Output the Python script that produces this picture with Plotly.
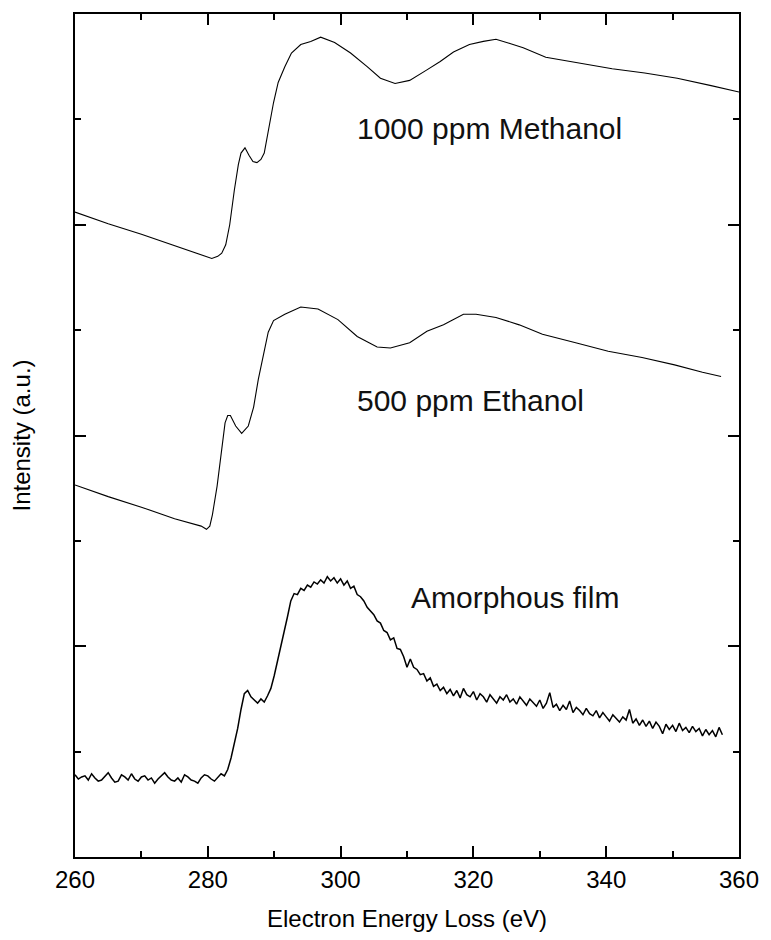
import numpy as np
import plotly.graph_objects as go

# --- EELS carbon K-edge spectra (intensity in arbitrary, offset units) ---
methanol_energy = [260, 265, 270, 275, 280, 280.6, 281.5, 282.1, 282.7, 283.3,
                   284.0, 284.6, 285.0, 285.6, 286.2, 286.8, 287.4, 288.0, 288.5, 289.1,
                   289.9, 290.6, 291.6, 292.6, 294.0, 295.5, 297.0, 299.1, 301.5, 304.0,
                   306.0, 308.2, 310.4, 313.0, 315.0, 317.0, 319.4, 321.5, 323.4, 325.5,
                   327.5, 330.9, 335.4, 340.9, 345.8, 350.7, 355.8, 360.0]
methanol_intensity = [6.12, 6.01, 5.91, 5.80, 5.69, 5.68, 5.70, 5.73, 5.81, 6.00,
                      6.33, 6.57, 6.68, 6.73, 6.66, 6.60, 6.59, 6.62, 6.68, 6.88,
                      7.16, 7.35, 7.50, 7.63, 7.71, 7.74, 7.78, 7.73, 7.63, 7.50,
                      7.39, 7.34, 7.37, 7.47, 7.55, 7.64, 7.71, 7.74, 7.76, 7.72,
                      7.68, 7.59, 7.54, 7.48, 7.44, 7.39, 7.32, 7.26]

ethanol_energy = [260, 265, 270, 275, 279.0, 279.8, 280.3, 280.7, 281.4, 282.1,
                  282.6, 283.0, 283.4, 284.2, 285.1, 286.1, 286.9, 287.6, 288.4, 289.1,
                  289.9, 291.6, 294.0, 296.6, 299.6, 302.5, 305.5, 307.5, 310.4, 313.0,
                  315.5, 318.5, 320.4, 323.4, 326.9, 330.4, 335.4, 340.3, 345.4, 350.3,
                  354.5, 357.3]
ethanol_intensity = [3.53, 3.42, 3.32, 3.21, 3.14, 3.11, 3.14, 3.25, 3.52, 3.90,
                     4.12, 4.19, 4.19, 4.09, 4.02, 4.09, 4.27, 4.53, 4.79, 4.98,
                     5.09, 5.15, 5.22, 5.20, 5.10, 4.94, 4.84, 4.83, 4.88, 4.99,
                     5.05, 5.15, 5.15, 5.12, 5.05, 4.96, 4.88, 4.80, 4.74, 4.67,
                     4.60, 4.56]

# amorphous film, sampled every 0.5 eV from 260.0 eV
amorphous_start = 260.0
amorphous_step = 0.5
amorphous_intensity = [
    0.78, 0.74, 0.76, 0.77, 0.73, 0.79, 0.75, 0.72, 0.73, 0.77,  # 260
    0.80, 0.75, 0.71, 0.72, 0.78, 0.76, 0.73, 0.79, 0.74, 0.72,  # 265
    0.76, 0.77, 0.73, 0.75, 0.70, 0.74, 0.77, 0.80, 0.76, 0.73,  # 270
    0.72, 0.75, 0.71, 0.78, 0.76, 0.73, 0.72, 0.70, 0.75, 0.78,  # 275
    0.77, 0.74, 0.72, 0.76, 0.79, 0.77, 0.83, 0.94, 1.08, 1.22,  # 280
    1.40, 1.55, 1.58, 1.52, 1.49, 1.46, 1.50, 1.47, 1.53, 1.60,  # 285
    1.72, 1.85, 1.98, 2.14, 2.28, 2.43, 2.50, 2.49, 2.55, 2.53,  # 290
    2.58, 2.56, 2.61, 2.59, 2.63, 2.60, 2.66, 2.62, 2.65, 2.60,  # 295
    2.64, 2.58, 2.62, 2.55, 2.57, 2.49, 2.47, 2.43, 2.37, 2.33,  # 300
    2.30, 2.24, 2.22, 2.15, 2.13, 2.06, 2.08, 1.98, 1.97, 1.90,  # 305
    1.80, 1.88, 1.80, 1.78, 1.73, 1.74, 1.67, 1.70, 1.62, 1.64,  # 310
    1.58, 1.61, 1.55, 1.59, 1.53, 1.58, 1.51, 1.60, 1.54, 1.52,  # 315
    1.57, 1.49, 1.55, 1.52, 1.47, 1.54, 1.50, 1.46, 1.52, 1.49,  # 320
    1.54, 1.47, 1.50, 1.45, 1.52, 1.48, 1.44, 1.50, 1.46, 1.43,  # 325
    1.49, 1.41, 1.46, 1.56, 1.42, 1.45, 1.39, 1.44, 1.40, 1.48,  # 330
    1.37, 1.42, 1.39, 1.35, 1.41, 1.36, 1.34, 1.39, 1.32, 1.37,  # 335
    1.33, 1.29, 1.35, 1.31, 1.28, 1.33, 1.30, 1.40, 1.27, 1.31,  # 340
    1.25, 1.30, 1.24, 1.29, 1.22, 1.28, 1.24, 1.17, 1.26, 1.21,  # 345
    1.25, 1.19, 1.27, 1.20, 1.23, 1.18, 1.24, 1.19, 1.22, 1.15,  # 350
    1.21, 1.16, 1.20, 1.14, 1.23, 1.16,                          # 355
]
amorphous_energy = [amorphous_start + amorphous_step * i for i in range(len(amorphous_intensity))]

x_tick_values = [260, 280, 300, 320, 340, 360]
x_tick_labels = ["260", "280", "300", "320", "340", "360"]

# curve labels: text, x (eV), y (a.u.)
label_texts = ["1000 ppm Methanol", "500 ppm Ethanol", "Amorphous film"]
label_x = [302.2, 302.2, 310.3]
label_y = [6.91, 4.33, 2.46]

FONT = "Arial, 'Liberation Sans', sans-serif"

fig = go.Figure()
fig.add_trace(go.Scatter(x=methanol_energy, y=methanol_intensity, mode="lines",
                         line=dict(color="black", width=1.1), showlegend=False))
fig.add_trace(go.Scatter(x=ethanol_energy, y=ethanol_intensity, mode="lines",
                         line=dict(color="black", width=1.1), showlegend=False))
fig.add_trace(go.Scatter(x=amorphous_energy, y=amorphous_intensity, mode="lines",
                         line=dict(color="black", width=1.5), showlegend=False))

for t, x, y in zip(label_texts, label_x, label_y):
    fig.add_annotation(x=x, y=y, text=t, showarrow=False, xanchor="left", yanchor="middle",
                       font=dict(family=FONT, size=30, color="#111"))

axis_common = dict(showline=True, linecolor="black", linewidth=2, mirror="ticks",
                   ticks="inside", tickcolor="black", tickwidth=2, showgrid=False,
                   zeroline=False)

fig.update_xaxes(range=[260, 360], tickmode="array", tickvals=x_tick_values,
                 ticktext=x_tick_labels, ticklen=11,
                 minor=dict(ticks="inside", dtick=10, tick0=260, ticklen=6,
                            tickwidth=2, tickcolor="black", showgrid=False),
                 tickfont=dict(family=FONT, size=24, color="black"),
                 title=dict(text="Electron Energy Loss (eV)", standoff=18,
                            font=dict(family=FONT, size=24, color="black")),
                 **axis_common)
fig.update_yaxes(range=[0, 8], tick0=0, dtick=2, ticklen=11, showticklabels=False,
                 minor=dict(ticks="inside", dtick=1, tick0=0, ticklen=6,
                            tickwidth=2, tickcolor="black", showgrid=False),
                 title=dict(text="Intensity (a.u.)", standoff=36,
                            font=dict(family=FONT, size=24, color="black")),
                 **axis_common)

fig.update_layout(width=771, height=940, plot_bgcolor="white", paper_bgcolor="white",
                  margin=dict(l=75, r=26, t=14, b=82), showlegend=False)

fig.write_html("out.html")
